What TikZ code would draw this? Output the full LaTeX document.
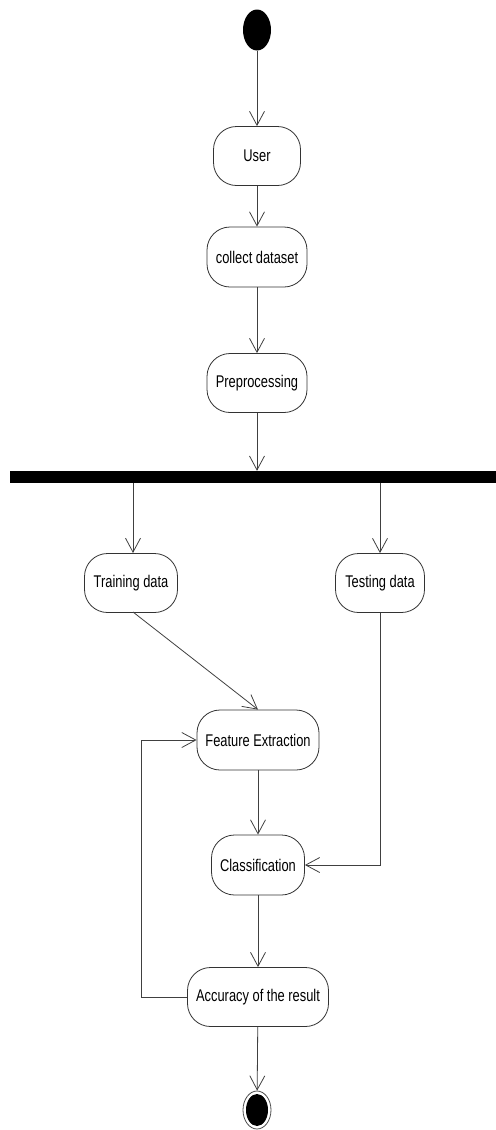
\documentclass[tikz,border=0pt]{standalone}
\usepackage{fontspec}
\setmainfont[FakeStretch=0.76]{Liberation Sans}
\usetikzlibrary{arrows.meta,shapes,calc}

\begin{document}
\begin{tikzpicture}[x=1bp,y=-1bp,
	act/.style={draw=black!80,line width=0.8bp,rounded corners=23bp,minimum height=59bp,inner sep=0pt,font=\fontsize{17}{20}\selectfont},
	flow/.style={draw=black!75,line width=0.8bp,-{Straight Barb[length=14bp,width=15bp]}}]
	\useasboundingbox (0,0) rectangle (496,1130);

	% start and end
	\node[ellipse,fill=black,minimum width=28bp,minimum height=41bp,inner sep=0pt] (start) at (257,30) {};
	\node[ellipse,draw=black!70,line width=0.8bp,minimum width=28bp,minimum height=38bp,inner sep=0pt] (end) at (257,1110) {};
	\node[ellipse,fill=black,minimum width=22bp,minimum height=32bp,inner sep=0pt] at (257,1110) {};

	% activities
	\node[act,minimum width=87bp] (user) at (257,156) {User};
	\node[act,minimum width=100bp,minimum height=60bp] (collect) at (257,257) {collect dataset};
	\node[act,minimum width=100bp] (prep) at (257,383) {Preprocessing};
	\node[fill=black,minimum width=486bp,minimum height=12bp,inner sep=0pt] (bar) at (253,477) {};
	\node[act,minimum width=93bp] (train) at (131,583) {Training data};
	\node[act,minimum width=89bp] (test) at (380,583) {Testing data};
	\node[act,minimum width=122bp,minimum height=60bp] (feat) at (258,740) {Feature Extraction};
	\node[act,minimum width=93bp,minimum height=60bp] (cls) at (258,865) {Classification};
	\node[act,minimum width=141bp] (acc) at (258,997) {Accuracy of the result};
	\coordinate (loop) at (141,997);

	% flows
	\draw[flow] (start) -- (user);
	\draw[flow] (user) -- (collect);
	\draw[flow] (collect) -- (prep);
	\draw[flow] (prep) -- (prep |- bar.north);
	\draw[flow] (bar.south -| 133,0) -- (133,553);
	\draw[flow] (bar.south -| test) -- (test);
	\draw[flow] (133,612) -- (feat.north);
	\draw[flow] (feat) -- (cls);
	\draw[flow] (test.south) |- (cls.east);
	\draw[flow] (cls) -- (acc);
	\draw[flow] (acc.west) -- (loop) |- (feat.west);
	\draw[flow] (acc) -- (end);
\end{tikzpicture}
\end{document}
